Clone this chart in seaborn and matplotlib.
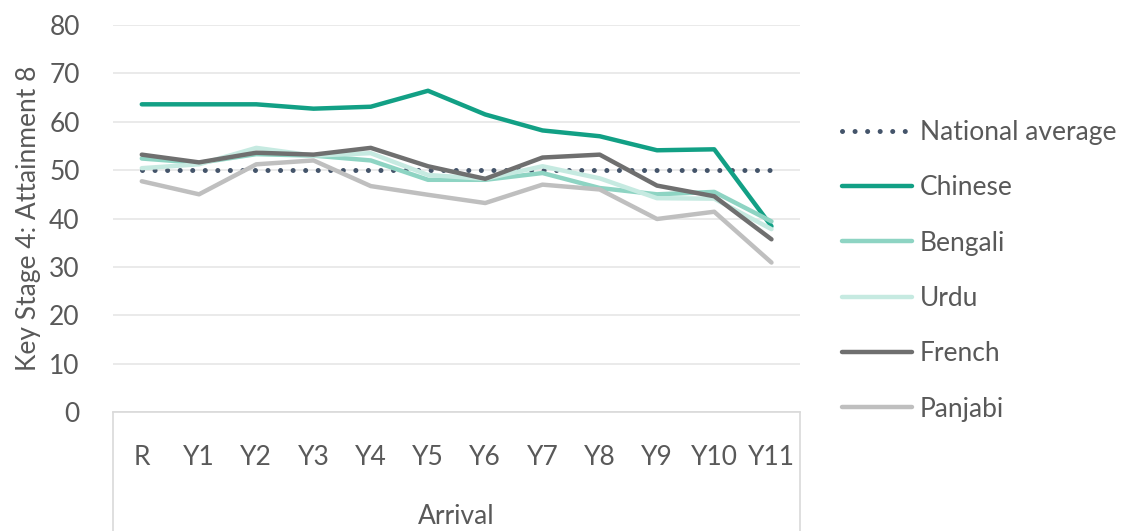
import matplotlib
matplotlib.use("Agg")
import matplotlib.pyplot as plt
import seaborn as sns
import pandas as pd
from matplotlib.lines import Line2D

arrival = ["R", "Y1", "Y2", "Y3", "Y4", "Y5", "Y6", "Y7", "Y8", "Y9", "Y10", "Y11"]
national = [50, 50, 50, 50, 50, 50, 50, 50, 50, 50, 50, 50]
chinese = [63.6, 63.6, 63.6, 62.7, 63.1, 66.4, 61.5, 58.2, 57.0, 54.1, 54.3, 38.4]
bengali = [52.4, 51.5, 53.3, 53.0, 52.0, 48.0, 48.0, 49.4, 46.3, 45.0, 45.5, 39.4]
urdu = [50.4, 51.2, 54.6, 53.0, 53.5, 49.0, 48.2, 50.8, 48.3, 44.2, 44.1, 37.8]
french = [53.2, 51.6, 53.6, 53.2, 54.6, 50.8, 48.2, 52.6, 53.2, 46.8, 44.6, 35.7]
panjabi = [47.7, 45.0, 51.2, 52.0, 46.7, 44.9, 43.2, 47.0, 46.0, 39.9, 41.4, 30.9]

series = {
    "National average": national,
    "Chinese": chinese,
    "Bengali": bengali,
    "Urdu": urdu,
    "French": french,
    "Panjabi": panjabi,
}
colours = {
    "National average": "#44546A",
    "Chinese": "#12A085",
    "Bengali": "#8ED4C3",
    "Urdu": "#C6EAE1",
    "French": "#6F6F6F",
    "Panjabi": "#BFBFBF",
}

rows = []
for name, vals in series.items():
    for a, v in zip(arrival, vals):
        rows.append({"Arrival": a, "Score": v, "Group": name})
df = pd.DataFrame(rows)

sns.set_theme(style="white")
plt.rcParams["font.family"] = ["Lato", "DejaVu Sans"]
text_col = "#595959"

fig = plt.figure(figsize=(11.43, 5.31), dpi=100)
ax = fig.add_axes([0.099, 0.224, 0.601, 0.729])

for name in series:
    sub = df[df["Group"] == name]
    if name == "National average":
        sns.lineplot(data=sub, x="Arrival", y="Score", ax=ax, color=colours[name],
                     lw=3.6, linestyle=(0, (0.01, 2.5)), dash_capstyle="round",
                     label=name, sort=False)
    else:
        sns.lineplot(data=sub, x="Arrival", y="Score", ax=ax, color=colours[name],
                     lw=3.2, label=name, sort=False, solid_capstyle="round")

ax.set_xlim(-0.5, len(arrival) - 0.5)
ax.set_ylim(0, 80)
ax.set_yticks(range(0, 81, 10))
ax.grid(axis="y", color="#E6E6E6", lw=1.2)
ax.set_axisbelow(True)
for s in ["top", "right", "left"]:
    ax.spines[s].set_visible(False)
ax.spines["bottom"].set_color("#D9D9D9")
ax.spines["bottom"].set_linewidth(1.2)

ax.tick_params(axis="both", length=0, labelsize=19, colors=text_col)
ax.tick_params(axis="x", pad=24)
ax.tick_params(axis="y", pad=24)
ax.set_xlabel("Arrival", fontsize=19, color=text_col, labelpad=24)
ax.set_ylabel("Key Stage 4: Attainment 8", fontsize=19, color=text_col, labelpad=6)

# category box of the multi-level axis
for xx in (0, 1):
    ax.add_line(Line2D([xx, xx], [0, -0.5], transform=ax.transAxes, color="#D9D9D9",
                       lw=1.2, clip_on=False))

leg = ax.legend(loc="center left", bbox_to_anchor=(0.716, 0.49),
                bbox_transform=fig.transFigure, frameon=False, fontsize=19,
                handlelength=2.65, handletextpad=0.3, labelspacing=1.15)
for t in leg.get_texts():
    t.set_color(text_col)

fig.savefig("out.png", dpi=100)
